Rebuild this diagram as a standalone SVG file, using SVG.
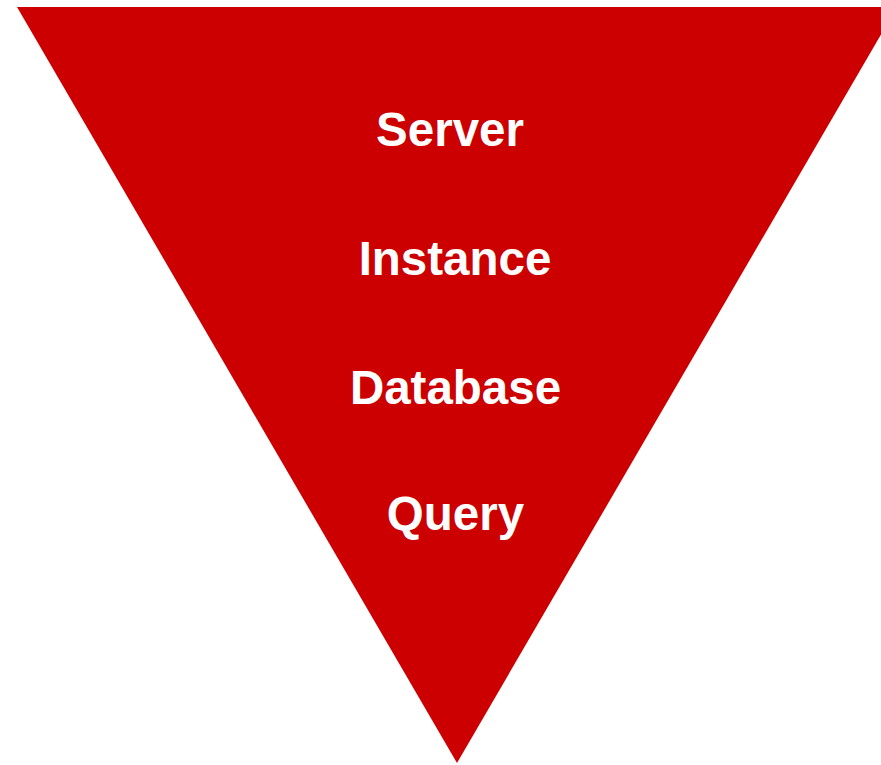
<svg xmlns="http://www.w3.org/2000/svg" width="881" height="765" viewBox="0 0 881 765">
<style>
.t{font-family:"Liberation Sans",Arial,sans-serif;font-weight:bold;font-size:47.5px;fill:#fff;text-anchor:middle}
</style>
<rect width="881" height="765" fill="#fff"/>
<g id="funnel">
<polygon points="17,7 897,7 457,763" fill="#cc0000"/>
</g>
<g id="server"><text class="t" x="450" y="146">Server</text></g>
<g id="instance"><text class="t" x="455" y="275">Instance</text></g>
<g id="database"><text class="t" x="455.5" y="404">Database</text></g>
<g id="query"><text class="t" x="455.5" y="530">Query</text></g>
</svg>
